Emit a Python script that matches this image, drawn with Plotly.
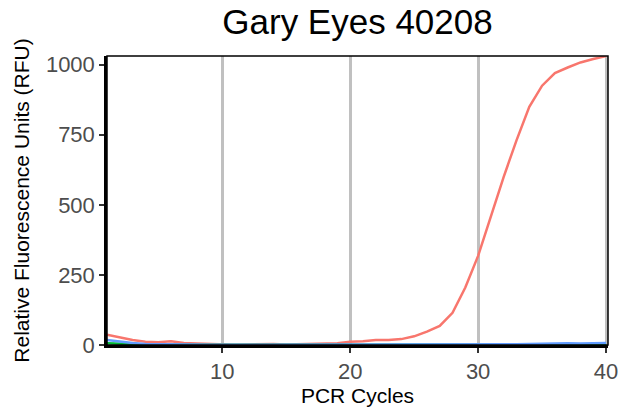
import plotly.graph_objects as go

cycles = list(range(1, 41))
red = [37, 27, 18, 12, 10, 13, 7, 5, 3, 2,
       1, 2, 4, 4, 2, 3, 4, 5, 6, 12,
       13, 18, 18, 21, 31, 48, 68, 115, 205, 318,
       458, 600, 730, 850, 925, 970, 990, 1008, 1020, 1031]
green = [6, 4, 3, 2, 2, 1, 1, 1, 1, 1,
         1, 1, 1, 1, 1, 1, 1, 1, 1, 1,
         1, 1, 1, 1, 1, 1, 1, 1, 2, 2,
         2, 2, 2, 2, 2, 2, 2, 2, 2, 2]
blue = [18, 12, 7, 4, 3, 2, 2, 1, 1, 1,
        1, 1, 1, 1, 1, 1, 1, 1, 1, 1,
        1, 1, 1, 1, 1, 1, 1, 1, 1, 1,
        2, 3, 3, 4, 5, 5, 6, 5, 6, 7]
series = [("Red", red, "#F8766D"), ("Green", green, "#00BA38"), ("Blue", blue, "#619CFF")]
x_ticks = [10, 20, 30, 40]
y_ticks = [0, 250, 500, 750, 1000]
title = "Gary Eyes 40208"

fig = go.Figure()
for name, vals, col in series:
    fig.add_trace(go.Scatter(x=cycles, y=vals, mode="lines", name=name,
                             line=dict(color=col, width=2.5)))

font = "Liberation Sans, Arial, sans-serif"
fig.update_layout(
    width=632, height=414,
    margin=dict(l=107, r=24, t=56, b=66),
    paper_bgcolor="white", plot_bgcolor="white",
    showlegend=False,
    title=dict(text=title, x=0.5, xref="paper", y=0.947, yanchor="middle",
               font=dict(family=font, size=35, color="black")),
    xaxis=dict(range=[1, 40.15], tickvals=x_ticks, showgrid=True, gridcolor="#C0C0C0",
               gridwidth=2.5, zeroline=False, showline=True, linecolor="black", linewidth=2.5,
               ticks="outside", ticklen=5, tickwidth=2, tickcolor="#333333",
               tickfont=dict(family=font, size=22, color="#4D4D4D"),
               title=dict(text="PCR Cycles", font=dict(family=font, size=21, color="black"), standoff=3)),
    yaxis=dict(range=[0, 1031], tickvals=y_ticks, showgrid=False, zeroline=False,
               showline=True, linecolor="black", linewidth=2.5,
               ticks="outside", ticklen=5, tickwidth=2, tickcolor="#333333",
               tickfont=dict(family=font, size=22, color="#4D4D4D"),
               title=dict(text="Relative Fluorescence Units (RFU)",
                          font=dict(family=font, size=21, color="black"), standoff=11)),
    shapes=[dict(type="rect", xref="paper", yref="paper", x0=0, y0=0, x1=1, y1=1,
                 line=dict(color="black", width=1.5), layer="above")],
)
fig.write_html("out.html", config={"displayModeBar": False},
               post_script="document.body.style.margin='0';document.body.style.padding='0';")
